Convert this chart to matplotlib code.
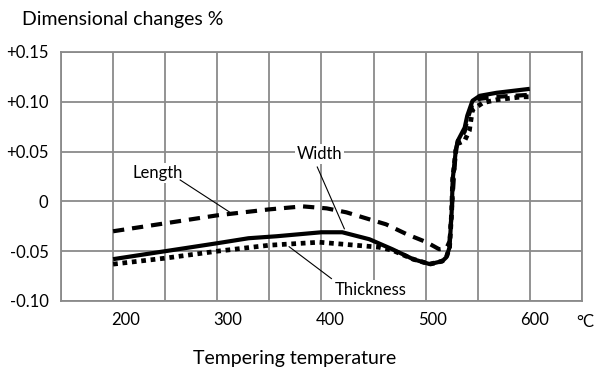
import numpy as np
import matplotlib.pyplot as plt

plt.rcParams['font.family'] = ['Lato', 'DejaVu Sans']

# Width (solid)
width_t = [200, 250, 300, 330, 357, 400, 420, 446, 468, 488, 504, 516, 520, 523,
           525, 526, 529, 531, 537.5, 540, 545, 552, 568, 600]
width_v = [-0.058, -0.050, -0.042, -0.037, -0.035, -0.031, -0.031, -0.038, -0.048,
           -0.058, -0.063, -0.060, -0.056, -0.046, -0.011, 0.022, 0.051, 0.061,
           0.074, 0.086, 0.101, 0.106, 0.109, 0.113]

# Length (dashed)
length_t = [200, 250, 300, 350, 382, 405, 424, 446, 462, 482, 501, 513, 520, 523,
            525, 527, 529, 531, 537.5, 540, 545, 552, 568, 600]
length_v = [-0.030, -0.022, -0.014, -0.008, -0.005, -0.007, -0.011, -0.018, -0.023,
            -0.033, -0.041, -0.048, -0.047, -0.040, -0.011, 0.022, 0.051, 0.061,
            0.070, 0.082, 0.098, 0.103, 0.105, 0.107]

# Thickness (dotted)
thick_t = [200, 250, 300, 350, 398, 444, 455, 468, 488, 504, 516, 520, 523, 525,
           526, 529, 531, 537.5, 542, 545, 555, 568, 593, 600]
thick_v = [-0.063, -0.057, -0.050, -0.044, -0.041, -0.045, -0.046, -0.049, -0.058,
           -0.063, -0.060, -0.056, -0.046, -0.011, 0.022, 0.051, 0.058, 0.061,
           0.071, 0.092, 0.099, 0.102, 0.105, 0.105]

x_ticks = [200, 300, 400, 500, 600]
y_ticks = [-0.10, -0.05, 0, 0.05, 0.10, 0.15]
y_labels = ['-0.10', '-0.05', '0', '+0.05', '+0.10', '+0.15']

grid_c = '#8a8a8a'

fig = plt.figure(figsize=(5.98, 3.70), dpi=100)
ax = fig.add_axes([0.102, 0.1865, 0.871, 0.673])

ax.plot(thick_t, thick_v, color='black', lw=3.4, linestyle=(0, (1, 1)),
        dash_capstyle='butt', zorder=3)
ax.plot(length_t, length_v, color='black', lw=3, linestyle=(0, (2.7, 1.9)),
        dash_capstyle='butt', zorder=4)
ax.plot(width_t, width_v, color='black', lw=3, solid_capstyle='butt',
        solid_joinstyle='round', zorder=5)

ax.set_xlim(150, 650)
ax.set_ylim(-0.10, 0.15)
ax.set_xticks(np.arange(150, 651, 50))
ax.set_xticklabels([])
ax.set_yticks(y_ticks)
ax.set_yticklabels(y_labels)
ax.tick_params(length=0, labelsize=12)
ax.tick_params(axis='y', pad=9)
ax.grid(True, color=grid_c, lw=1.3, zorder=1)
ax.set_axisbelow(True)
for s in ax.spines.values():
    s.set_color(grid_c)
    s.set_linewidth(1.3)

# x tick labels sit slightly right of their grid lines, as in the original
xtrans = ax.get_xaxis_transform()
for v in x_ticks:
    ax.text(0.98 * v + 16.5, -0.078, str(v), transform=xtrans, fontsize=12,
            ha='center', va='center')

box = dict(fc='white', ec='none', pad=1.5)
ax.text(242.8, 0.0285, 'Length', fontsize=12, ha='center', va='center', bbox=box, zorder=6)
ax.plot([264.4, 311.5], [0.0215, -0.0105], color='black', lw=0.8, zorder=6)
ax.text(398, 0.0475, 'Width', fontsize=12, ha='center', va='center', bbox=box, zorder=6)
ax.plot([396, 422], [0.0345, -0.0275], color='black', lw=0.8, zorder=6)
ax.text(447.6, -0.0885, 'Thickness', fontsize=12, ha='center', va='center', bbox=box, zorder=6)
ax.plot([369, 409.6], [-0.0455, -0.0775], color='black', lw=0.8, zorder=6)

fig.text(0.037, 0.948, 'Dimensional changes %', fontsize=14, va='center', ha='left')
fig.text(0.493, 0.03, 'Tempering temperature', fontsize=14, va='center', ha='center')
fig.text(0.963, 0.13, '°C', fontsize=12, va='center', ha='left')

fig.savefig('out.png', dpi=100)
